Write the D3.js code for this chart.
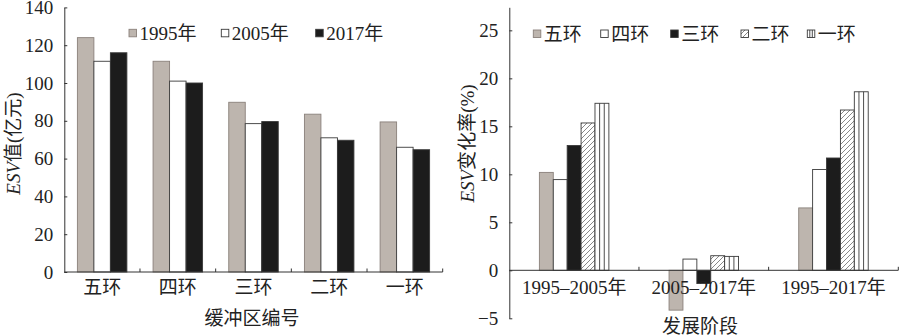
<!DOCTYPE html>
<html><head><meta charset="utf-8">
<script src="https://cdn.jsdelivr.net/npm/d3@7/dist/d3.min.js"></script>
<style>
body{margin:0;background:#fff;}
text{font-family:"Liberation Serif","Times New Roman","Noto Sans CJK SC",serif;fill:#222;}
</style></head><body>
<svg id="c" width="900" height="336"></svg>
<script>
// ---- data: left chart ----
const zones = ["五环","四环","三环","二环","一环"];
const years = ["1995年","2005年","2017年"];
const esv1995 = [124, 111.5, 89.8, 83.5, 79.4];
const esv2005 = [111.5, 101, 78.5, 71, 66];
const esv2017 = [116, 100, 79.6, 69.7, 64.7];
const leftTicks = [0,20,40,60,80,100,120,140];
// ---- data: right chart ----
const stages = ["1995–2005年","2005–2017年","1995–2017年"];
const rate5 = [10.2, -4.15, 6.5];
const rate4 = [9.45, 1.17, 10.5];
const rate3 = [13.0, -1.38, 11.7];
const rate2 = [15.35, 1.52, 16.7];
const rate1 = [17.4, 1.45, 18.6];
const rightTicks = [-5,0,5,10,15,20,25];

const svg = d3.select("#c");
const FS = 19;
const GRAY = "#bdb5ae", BLACK = "#1c1c1c", STROKE = "#3a3a3a";

const defs = svg.append("defs");
const pat = defs.append("pattern").attr("id","hatch").attr("patternUnits","userSpaceOnUse")
  .attr("width",5).attr("height",5);
pat.append("rect").attr("width",5).attr("height",5).attr("fill","#fff");
pat.append("path").attr("d","M-1,1 L1,-1 M0,5 L5,0 M4,6 L6,4").attr("stroke","#555").attr("stroke-width",0.7);

// ================= LEFT CHART =================
{
  const x0 = d3.scaleBand().domain(zones).range([64.3, 442.7]);
  const inset = (x0.bandwidth() - 49.5)/2;
  const x1 = d3.scaleBand().domain(years).range([inset, x0.bandwidth()-inset]);
  const y = d3.scaleLinear().domain([0,140]).range([272, 7.4]);
  const series = [esv1995, esv2005, esv2017];
  const fills = [GRAY, "#fff", BLACK];
  const g = svg.append("g");
  zones.forEach((z,i)=>{
    years.forEach((yr,j)=>{
      const v = series[j][i];
      g.append("rect").attr("x", x0(z)+x1(yr)).attr("y", y(v))
        .attr("width", x1.bandwidth()).attr("height", y(0)-y(v))
        .attr("fill", fills[j]).attr("stroke", j===0 ? "#8a817b" : STROKE).attr("stroke-width",0.9);
    });
  });
  // y axis
  const ya = d3.axisLeft(y).tickValues(leftTicks).tickSizeInner(-3).tickSizeOuter(0).tickPadding(11);
  const yg = g.append("g").attr("transform","translate(64.3,0)").call(ya);
  yg.select(".domain").attr("stroke","#333");
  yg.selectAll("line").attr("stroke","#333");
  yg.selectAll("text").attr("font-size",FS).attr("fill","#222").attr("font-family","Liberation Serif");
  // x axis
  const xg = g.append("g");
  xg.append("line").attr("x1",64.3).attr("x2",442.7).attr("y1",y(0)).attr("y2",y(0)).attr("stroke","#333");
  zones.forEach(z=>{
    const xe = x0(z)+x0.bandwidth();
    xg.append("line").attr("x1",xe).attr("x2",xe).attr("y1",y(0)).attr("y2",y(0)-3.5).attr("stroke","#333");
    xg.append("text").attr("x",x0(z)+x0.bandwidth()/2).attr("y",294).attr("text-anchor","middle")
      .attr("font-size",FS).text(z);
  });
  g.append("text").attr("x",252).attr("y",325).attr("text-anchor","middle").attr("font-size",FS).text("缓冲区编号");
  const yl = g.append("text").attr("transform","translate(20,143.5) rotate(-90)").attr("text-anchor","middle").attr("font-size",FS);
  yl.append("tspan").attr("font-style","italic").text("ESV");
  yl.append("tspan").text("值(亿元)");
  // legend
  const lx = [129, 221.3, 315.7];
  years.forEach((yr,j)=>{
    g.append("rect").attr("x",lx[j]).attr("y",29.3).attr("width",7.5).attr("height",7.5)
      .attr("fill",fills[j]).attr("stroke", j===0 ? "#8a817b" : STROKE).attr("stroke-width",0.9);
    g.append("text").attr("x",lx[j]+10.5).attr("y",39.5).attr("font-size",FS).text(yr);
  });
}

// ================= RIGHT CHART =================
{
  const keys = ["五环","四环","三环","二环","一环"];
  const series = [rate5, rate4, rate3, rate2, rate1];
  const fills = [GRAY, "#fff", BLACK, "url(#hatch)", "#fff"];
  const x0 = d3.scaleBand().domain(stages).range([509.3, 898.3]);
  const inset = (x0.bandwidth() - 69.5)/2;
  const x1 = d3.scaleBand().domain(keys).range([inset, x0.bandwidth()-inset]);
  const y = d3.scaleLinear().domain([-5, 27.4]).range([318.3, 7.3]);
  const g = svg.append("g");
  stages.forEach((s,i)=>{
    keys.forEach((k,j)=>{
      const v = series[j][i];
      const bx = x0(s)+x1(k), bw = x1.bandwidth();
      const top = Math.min(y(v), y(0)), h = Math.abs(y(v)-y(0));
      g.append("rect").attr("x",bx).attr("y",top).attr("width",bw).attr("height",h)
        .attr("fill",fills[j]).attr("stroke", j===0 ? "#8a817b" : STROKE).attr("stroke-width",0.9);
      if (j===4) {
        [1/3, 2/3].forEach(f=>{
          g.append("line").attr("x1",bx+bw*f).attr("x2",bx+bw*f).attr("y1",top).attr("y2",top+h)
            .attr("stroke",STROKE).attr("stroke-width",0.9);
        });
      }
    });
  });
  const ya = d3.axisLeft(y).tickValues(rightTicks).tickSizeInner(-3).tickSizeOuter(0).tickPadding(11);
  const yg = g.append("g").attr("transform","translate(509.3,0)").call(ya);
  yg.select(".domain").attr("stroke","#333");
  yg.selectAll("line").attr("stroke","#333");
  yg.selectAll("text").attr("font-size",FS).attr("fill","#222").attr("font-family","Liberation Serif");
  const xg = g.append("g");
  xg.append("line").attr("x1",509.3).attr("x2",898.3).attr("y1",y(0)).attr("y2",y(0)).attr("stroke","#333");
  stages.forEach(s=>{
    const xe = x0(s)+x0.bandwidth();
    xg.append("line").attr("x1",xe).attr("x2",xe).attr("y1",y(0)).attr("y2",y(0)-3.5).attr("stroke","#333");
    xg.append("text").attr("x",x0(s)+x0.bandwidth()/2).attr("y",294).attr("text-anchor","middle")
      .attr("font-size",FS).text(s);
  });
  g.append("text").attr("x",700).attr("y",333).attr("text-anchor","middle").attr("font-size",FS).text("发展阶段");
  const yl = g.append("text").attr("transform","translate(474,143.5) rotate(-90)").attr("text-anchor","middle").attr("font-size",FS);
  yl.append("tspan").attr("font-style","italic").text("ESV");
  yl.append("tspan").text("变化率(%)");
  const lx = [533.3, 600.7, 670.7, 741, 807.3];
  keys.forEach((k,j)=>{
    const sx = lx[j], sy = 30, ss = 7.5;
    g.append("rect").attr("x",sx).attr("y",sy).attr("width",ss).attr("height",ss)
      .attr("fill",fills[j]).attr("stroke", j===0 ? "#8a817b" : STROKE).attr("stroke-width",0.9);
    if (j===4) {
      [1/3,2/3].forEach(f=>g.append("line").attr("x1",sx+ss*f).attr("x2",sx+ss*f).attr("y1",sy).attr("y2",sy+ss)
        .attr("stroke",STROKE).attr("stroke-width",0.9));
    }
    g.append("text").attr("x",sx+10.5).attr("y",40.5).attr("font-size",FS).text(k);
  });
}
</script>
</body></html>
